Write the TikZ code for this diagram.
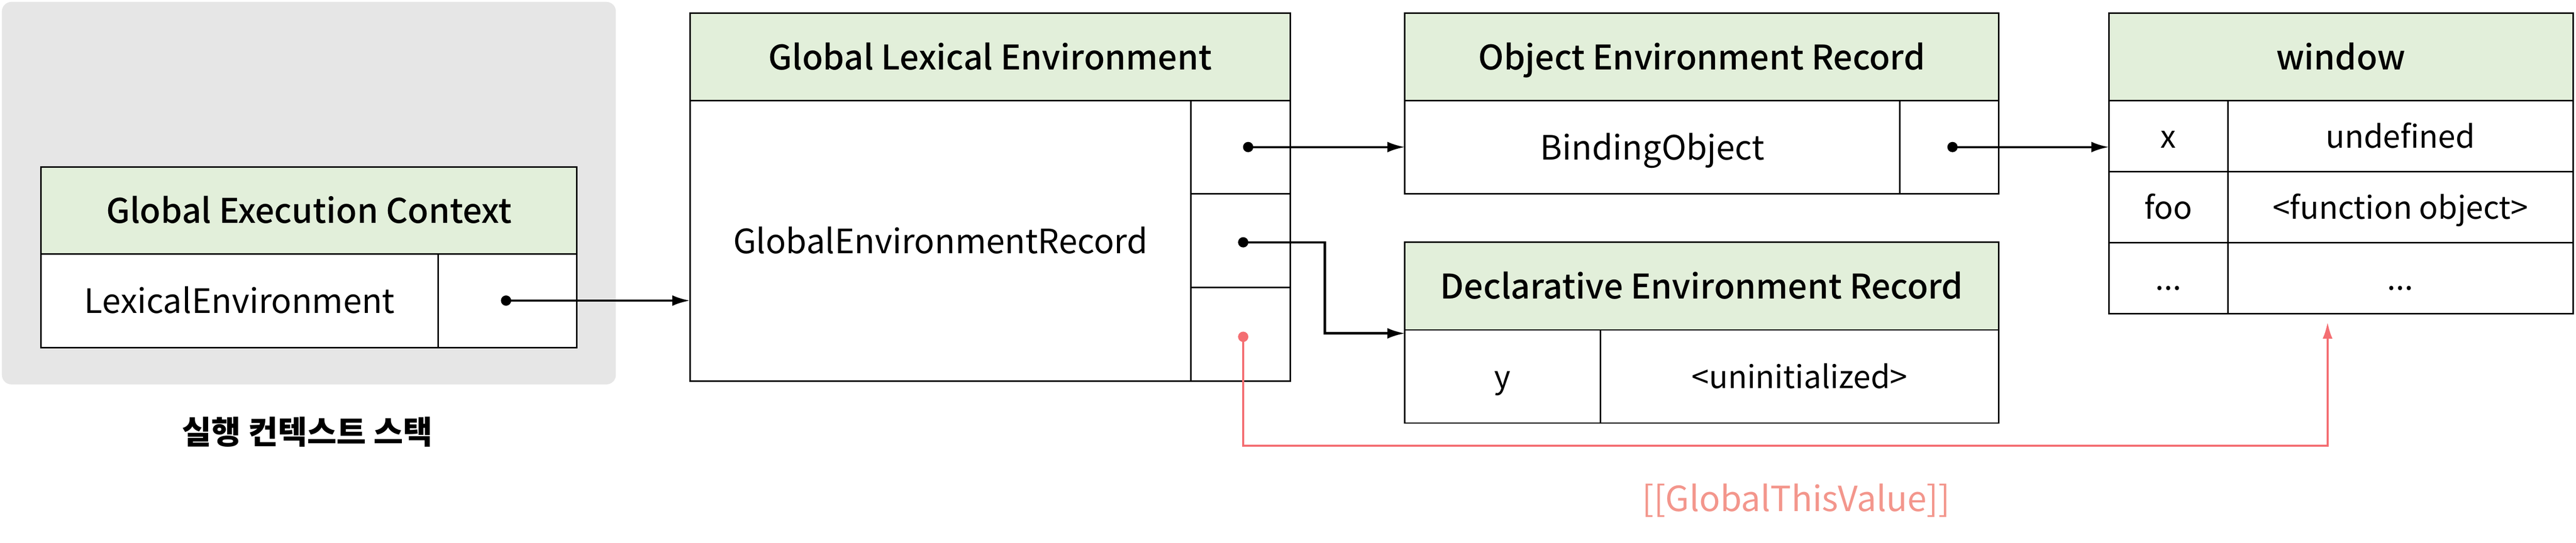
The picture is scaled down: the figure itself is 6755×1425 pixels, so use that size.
\documentclass[tikz,border=0pt]{standalone}
\usepackage{fontspec}
\setmainfont{Noto Sans CJK KR}
\newfontfamily\medfont{Noto Sans CJK KR Medium}
\usetikzlibrary{arrows.meta}
\definecolor{hdr}{HTML}{E2EFDA}
\definecolor{stackgray}{HTML}{E6E6E6}
\definecolor{redln}{HTML}{F46E72}
\definecolor{redtx}{HTML}{F3968C}
\begin{document}
\begin{tikzpicture}[x=1pt,y=-1pt,
 cell/.style={draw, fill=white, line width=4pt, inner sep=0pt, outer sep=0pt, anchor=north west, text height=66pt, text depth=0pt, font=\fontsize{88}{100}\selectfont},
 hcell/.style={cell, fill=hdr, text height=67pt, font=\medfont\fontsize{89}{100}\selectfont},
 vcell/.style={cell, text height=62pt, font=\fontsize{82}{96}\selectfont},
 dot/.style={circle, fill=#1, inner sep=0pt, minimum size=27pt},
 dot/.default=black,
 conn/.style={line width=6pt},
 arr/.style={conn, -{Latex[length=46pt,width=28pt]}},
]
\useasboundingbox (0,0) rectangle (6755,1425);
% stack background
\node[fill=stackgray, rounded corners=25pt, minimum width=1610pt, minimum height=1004pt, anchor=north west, inner sep=0pt, outer sep=0pt] (stack) at (5,5) {};
% Global Execution Context
\node[hcell, minimum width=1405pt, minimum height=229pt] (gecH) at (108,438) {Global Execution Context};
\node[cell, minimum width=1041pt, minimum height=245pt] (gecL) at (108,667) {LexicalEnvironment};
\node[cell, minimum width=364pt, minimum height=245pt] (gecP) at (1149,667) {};
\node[font=\bfseries\fontsize{84}{100}\selectfont] (stacklabel) at (806,1134) {실행 컨텍스트 스택};
% Global Lexical Environment
\node[hcell, minimum width=1575pt, minimum height=229pt] (gleH) at (1809,34.5) {Global Lexical Environment};
\node[cell, minimum width=1314pt, minimum height=736.5pt] (gleB) at (1809,263.5) {GlobalEnvironmentRecord};
\node[cell, minimum width=261pt, minimum height=245.5pt] (gleP1) at (3123,263.5) {};
\node[cell, minimum width=261pt, minimum height=245pt] (gleP2) at (3123,509) {};
\node[cell, minimum width=261pt, minimum height=246pt] (gleP3) at (3123,754) {};
% Object Environment Record
\node[hcell, minimum width=1557pt, minimum height=229pt] (oerH) at (3684,34.5) {Object Environment Record};
\node[cell, minimum width=1298pt, minimum height=245.5pt] (oerL) at (3684,263.5) {BindingObject};
\node[cell, minimum width=259pt, minimum height=245.5pt] (oerP) at (4982,263.5) {};
% Declarative Environment Record
\node[hcell, minimum width=1557pt, minimum height=230pt] (derH) at (3684,636) {Declarative Environment Record};
\node[vcell, minimum width=513pt, minimum height=244.5pt] (derK) at (3684,866) {y};
\node[vcell, minimum width=1044pt, minimum height=244.5pt] (derV) at (4197,866) {<uninitialized>};
% window
\node[hcell, minimum width=1217pt, minimum height=229pt] (winH) at (5530,34.5) {window};
\node[vcell, minimum width=312pt, minimum height=186.5pt] (winK1) at (5530,263.5) {x};
\node[vcell, minimum width=905pt, minimum height=186.5pt] (winV1) at (5842,263.5) {undefined};
\node[vcell, minimum width=312pt, minimum height=187pt] (winK2) at (5530,450) {foo};
\node[vcell, minimum width=905pt, minimum height=187pt] (winV2) at (5842,450) {<function object>};
\node[vcell, minimum width=312pt, minimum height=187pt] (winK3) at (5530,637) {...};
\node[vcell, minimum width=905pt, minimum height=187pt] (winV3) at (5842,637) {...};
% dots
\node[dot] (d0) at (1327,789) {};
\node[dot] (d1) at (3273,386) {};
\node[dot] (d2) at (3260,636) {};
\node[dot=redln] (rd) at (3260,884) {};
\node[dot] (d3) at (5120,386) {};
% helper coordinates
\coordinate (bend) at (3474,636);
\coordinate (derin) at (3684,875);
\coordinate (rlow) at (3260,1170);
\coordinate (rtip) at (6103.5,845);
% connectors
\draw[arr] (d0.center) -- (d0.center -| gleB.west);
\draw[arr] (d1.center) -- (d1.center -| oerL.west);
\draw[arr] (d2.center) -- (bend) |- (derin);
\draw[arr] (d3.center) -- (d3.center -| winK1.west);
\draw[conn, redln, -{Latex[length=44pt,width=26pt]}] (rd.center) -- (rlow) -| (rtip);
\node[text=redtx, font=\fontsize{91}{100}\selectfont] (gtv) at (4710,1314) {[[GlobalThisValue]]};
\end{tikzpicture}
\end{document}
